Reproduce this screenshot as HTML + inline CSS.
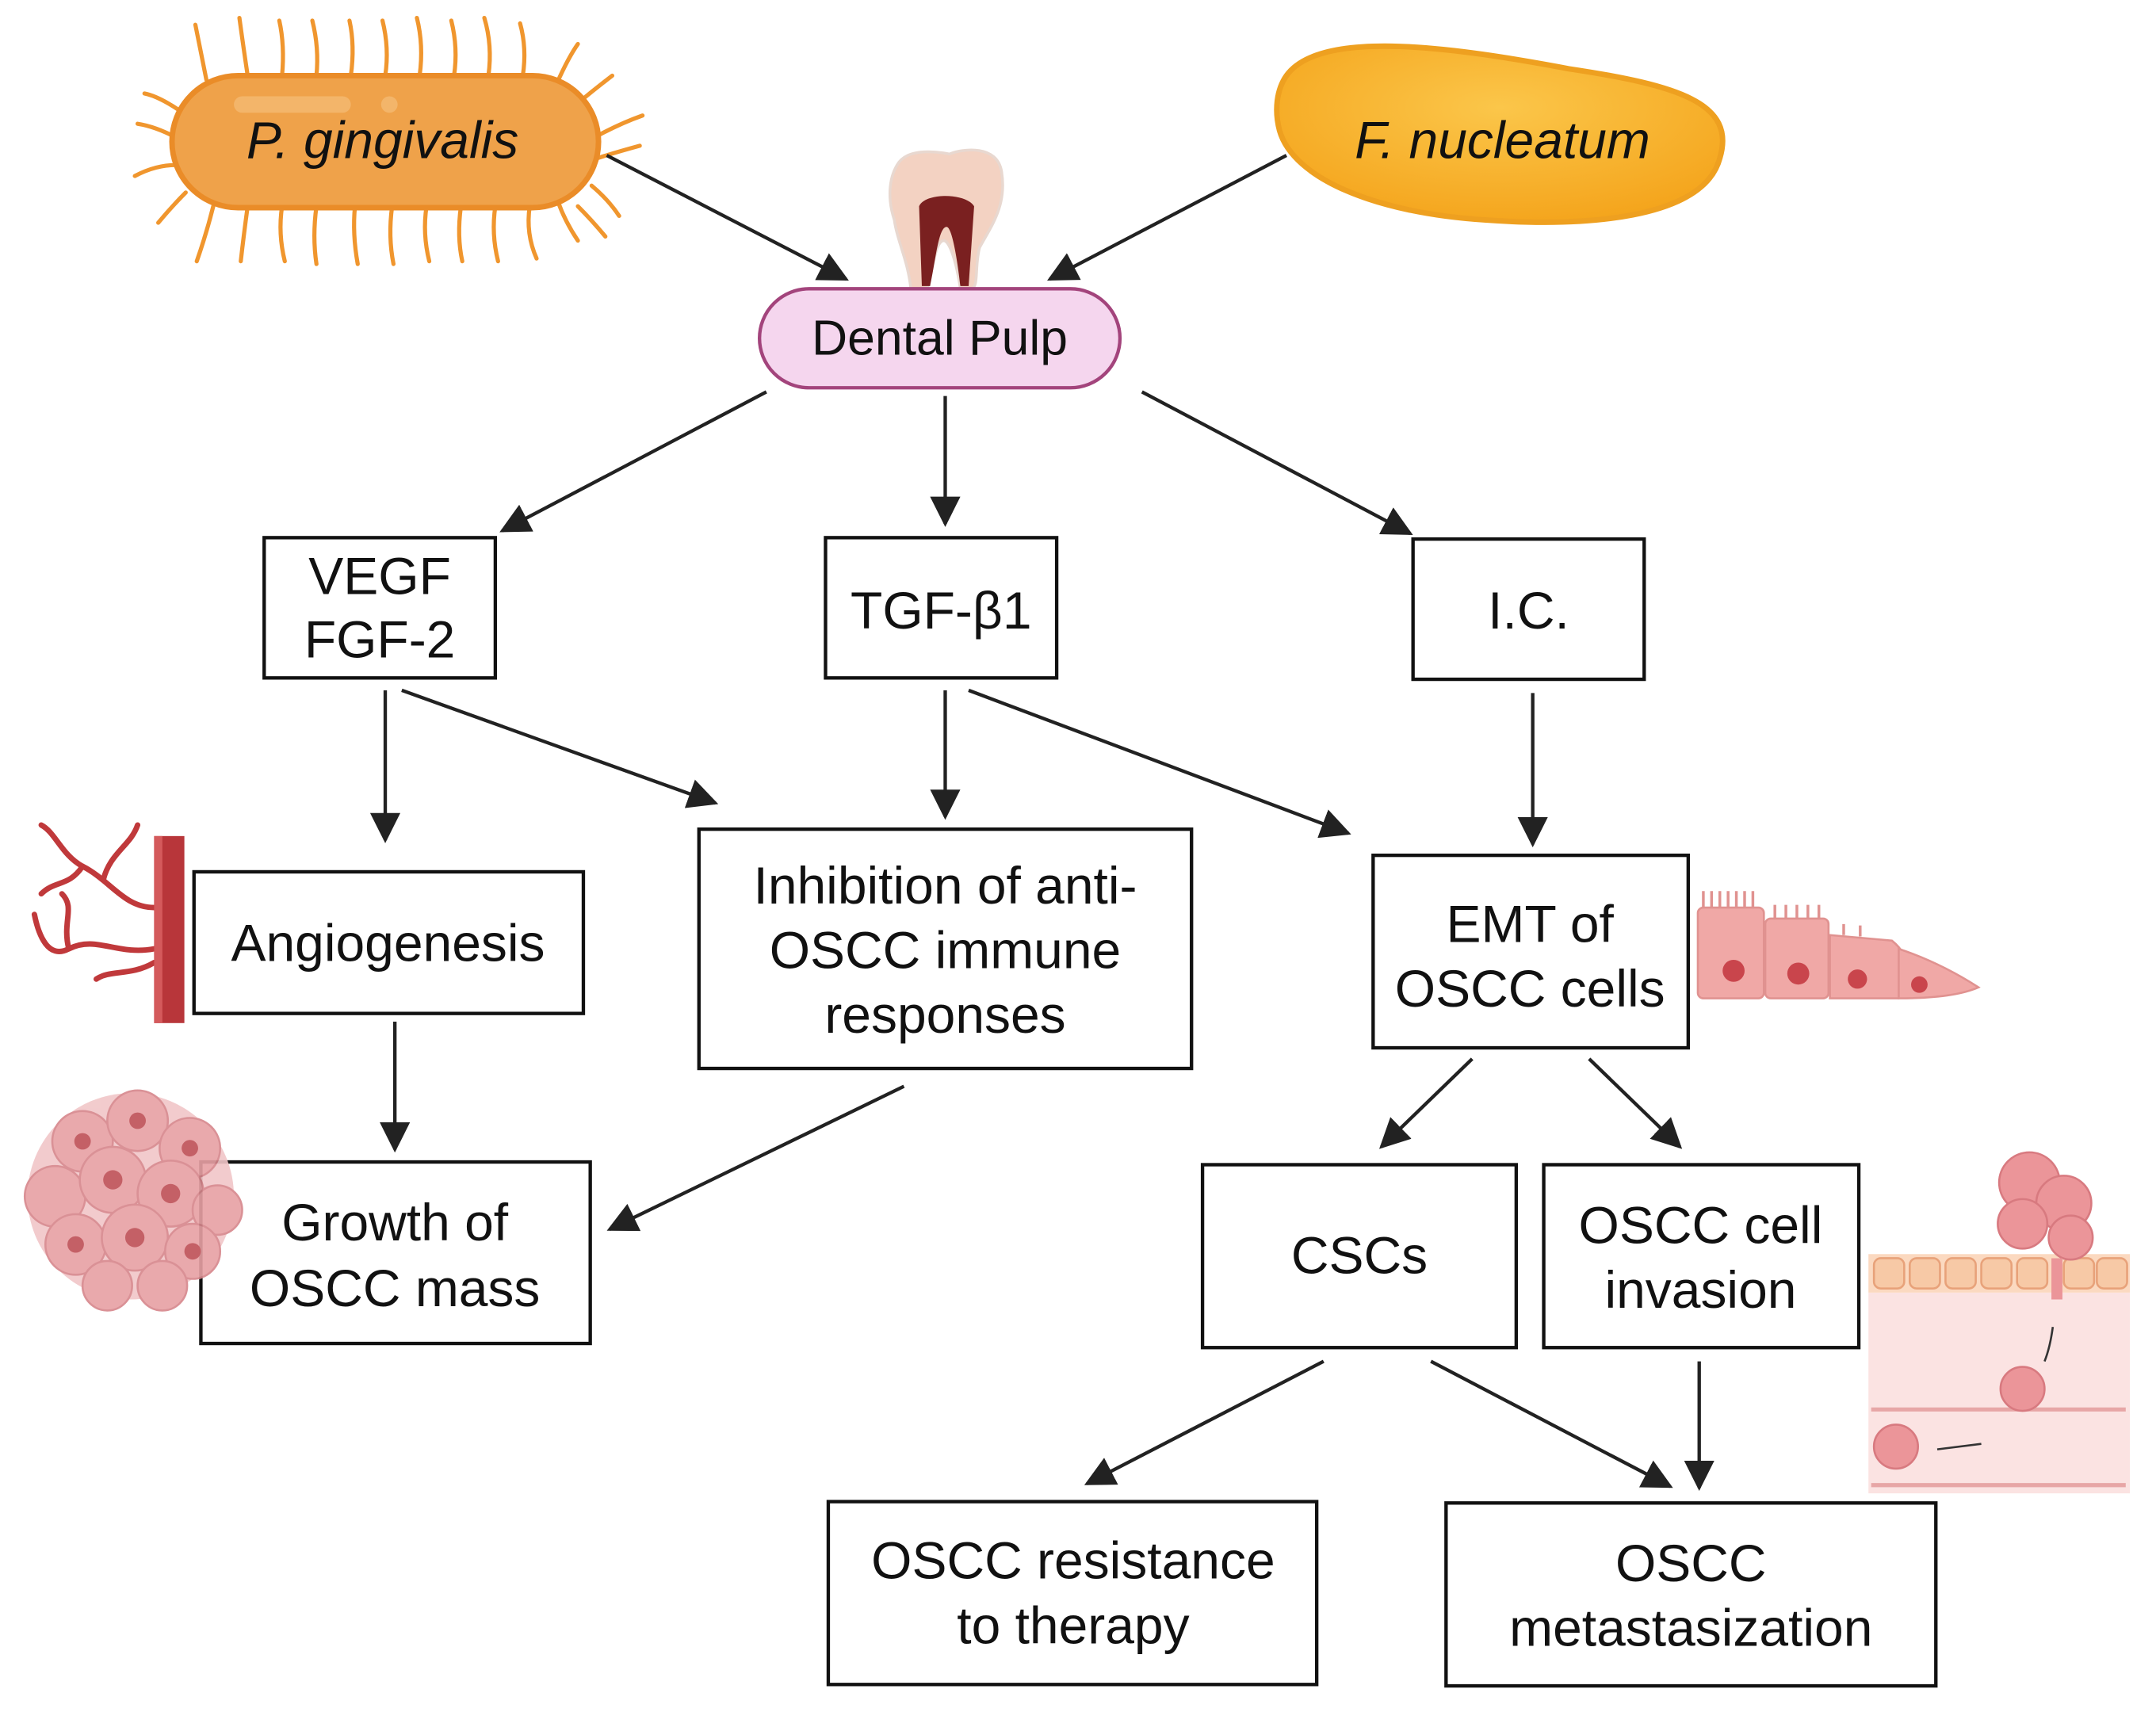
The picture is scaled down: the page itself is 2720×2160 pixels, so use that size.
<!DOCTYPE html>
<html><head><meta charset="utf-8"><style>
html,body{margin:0;padding:0;background:#fff;}
svg{display:block;}
text{font-family:"Liberation Sans",Arial,sans-serif;fill:#111;}
</style></head><body>
<svg width="2720" height="2160" viewBox="0 0 1567 1245" preserveAspectRatio="none" xmlns="http://www.w3.org/2000/svg">
<defs>
<marker id="a" viewBox="0 0 20 20" refX="18" refY="10" markerWidth="22" markerHeight="22" markerUnits="userSpaceOnUse" orient="auto"><path d="M0,0 L20,10 L0,20 Z" fill="#222"/></marker>
<radialGradient id="fn" cx="0.5" cy="0.35" r="0.7"><stop offset="0" stop-color="#fbc64a"/><stop offset="1" stop-color="#f4a31a"/></radialGradient>
</defs>
<rect width="1567" height="1245" fill="#fff"/>

<!-- P. gingivalis spikes -->
<g stroke="#f0962e" stroke-width="3" fill="none" stroke-linecap="round">
<path d="M150,58 q-4,-20 -8,-40"/><path d="M180,55 q-3,-20 -6,-42"/><path d="M205,55 q2,-22 -2,-40"/><path d="M230,55 q2,-20 -3,-40"/><path d="M255,55 q3,-22 -1,-40"/><path d="M280,55 q3,-20 -2,-40"/><path d="M305,55 q3,-22 -2,-42"/><path d="M330,55 q3,-20 -2,-40"/><path d="M355,55 q3,-22 -3,-42"/><path d="M380,55 q3,-20 -2,-38"/><path d="M405,60 q8,-18 15,-28"/><path d="M420,75 q12,-10 25,-20"/>
<path d="M425,118 q18,-6 40,-12"/><path d="M432,100 q18,-10 35,-16"/><path d="M430,135 q12,10 20,22"/><path d="M420,150 q10,10 20,22"/>
<path d="M155,150 q-5,20 -12,40"/><path d="M180,150 q-3,22 -5,40"/><path d="M205,150 q-3,20 2,40"/><path d="M230,150 q-3,22 0,42"/><path d="M258,150 q-2,20 2,42"/><path d="M285,150 q-3,22 1,42"/><path d="M310,150 q-3,20 2,40"/><path d="M335,150 q-3,22 1,40"/><path d="M360,150 q-3,20 2,40"/><path d="M385,150 q-3,20 5,38"/><path d="M405,145 q5,15 15,30"/>
<path d="M130,80 q-15,-10 -25,-12"/><path d="M128,100 q-15,-8 -28,-10"/><path d="M128,120 q-15,0 -30,8"/><path d="M135,140 q-10,10 -20,22"/>
</g>
<rect x="125" y="55" width="310" height="96" rx="48" fill="#efa24a" stroke="#ea8c28" stroke-width="4"/>
<rect x="170" y="70" width="85" height="12" rx="6" fill="#f3b56a"/>
<circle cx="283" cy="76" r="6" fill="#f3b56a"/>
<text x="278" y="115" font-size="38" font-style="italic" text-anchor="middle">P. gingivalis</text>

<!-- F. nucleatum -->
<path d="M935,55 C960,20 1060,35 1140,50 C1220,62 1262,75 1250,115 C1238,160 1150,165 1080,160 C1000,155 940,130 930,95 C926,80 928,65 935,55 Z" fill="url(#fn)" stroke="#eea020" stroke-width="4"/>
<text x="1092" y="115" font-size="38" font-style="italic" text-anchor="middle">F. nucleatum</text>

<!-- Tooth -->
<path d="M652,120 C660,105 690,112 690,112 C700,108 725,105 728,125 C732,150 720,165 712,180 C708,195 712,210 705,210 L698,210 C695,190 690,175 686,175 C680,175 678,195 674,210 L662,210 C660,190 652,175 650,160 C645,145 646,130 652,120 Z" fill="#f3d2c2" stroke="#e8d8d0" stroke-width="2"/>
<path d="M668,150 C672,140 702,140 708,150 L704,208 L698,208 C696,190 692,165 688,165 C682,165 680,190 676,208 L670,208 Z" fill="#7a2020"/>

<!-- Dental Pulp -->
<rect x="552" y="210" width="262" height="72" rx="36" fill="#f5d6ee" stroke="#a3447c" stroke-width="2.5"/>
<text x="683" y="258" font-size="36" text-anchor="middle">Dental Pulp</text>

<!-- arrows -->
<g stroke="#222" stroke-width="2.5" fill="none" marker-end="url(#a)">
<line x1="441" y1="113" x2="615" y2="203"/>
<line x1="935" y1="113" x2="763" y2="203"/>
<line x1="557" y1="285" x2="365" y2="386"/>
<line x1="687" y1="288" x2="687" y2="381"/>
<line x1="830" y1="285" x2="1025" y2="388"/>
<line x1="280" y1="502" x2="280" y2="611"/>
<line x1="292" y1="502" x2="520" y2="584"/>
<line x1="687" y1="502" x2="687" y2="594"/>
<line x1="704" y1="502" x2="980" y2="606"/>
<line x1="1114" y1="504" x2="1114" y2="614"/>
<line x1="287" y1="743" x2="287" y2="836"/>
<line x1="657" y1="790" x2="443" y2="894"/>
<line x1="1070" y1="770" x2="1004" y2="834"/>
<line x1="1155" y1="770" x2="1221" y2="834"/>
<line x1="962" y1="990" x2="790" y2="1079"/>
<line x1="1040" y1="990" x2="1214" y2="1081"/>
<line x1="1235" y1="990" x2="1235" y2="1082"/>
</g>

<!-- boxes -->
<g fill="#fff" stroke="#111" stroke-width="2.5">
<rect x="192" y="391" width="168" height="102"/>
<rect x="600" y="391" width="168" height="102"/>
<rect x="1027" y="392" width="168" height="102"/>
<rect x="141" y="634" width="283" height="103"/>
<rect x="508" y="603" width="358" height="174"/>
<rect x="998" y="622" width="229" height="140"/>
<rect x="146" y="845" width="283" height="132"/>
<rect x="874" y="847" width="228" height="133"/>
<rect x="1122" y="847" width="229" height="133"/>
<rect x="602" y="1092" width="355" height="133"/>
<rect x="1051" y="1093" width="356" height="133"/>
</g>
<g font-size="38" text-anchor="middle">
<text x="276" y="432">VEGF</text><text x="276" y="478">FGF-2</text>
<text x="684" y="457">TGF-β1</text>
<text x="1111" y="457">I.C.</text>
<text x="282" y="699">Angiogenesis</text>
<text x="687" y="657">Inhibition of anti-</text><text x="687" y="704">OSCC immune</text><text x="687" y="751">responses</text>
<text x="1112" y="685">EMT of</text><text x="1112" y="732">OSCC cells</text>
<text x="287" y="902">Growth of</text><text x="287" y="950">OSCC mass</text>
<text x="988" y="926">CSCs</text>
<text x="1236" y="904">OSCC cell</text><text x="1236" y="951">invasion</text>
<text x="780" y="1148">OSCC resistance</text><text x="780" y="1195">to therapy</text>
<text x="1229" y="1150">OSCC</text><text x="1229" y="1197">metastasization</text>
</g>

<!-- blood vessel -->
<g stroke="#c0393b" stroke-width="4" fill="none" stroke-linecap="round">
<path d="M112,660 C90,660 80,640 60,630 C45,622 40,605 30,600"/>
<path d="M112,690 C85,695 70,680 50,690 C35,698 28,680 25,665"/>
<path d="M112,700 C95,710 80,705 70,712"/>
<path d="M60,630 C50,645 40,640 30,650"/>
<path d="M75,640 C80,620 95,615 100,600"/>
<path d="M50,690 C45,670 55,660 45,650"/>
</g>
<rect x="112" y="608" width="22" height="136" fill="#b8363a"/>
<rect x="112" y="608" width="6" height="136" fill="#d45a5c"/>

<!-- tumour mass -->
<g fill="#e7a0a4" stroke="#d6868b" stroke-width="1.5" opacity="0.9">
<circle cx="95" cy="870" r="75" fill="#f1c6c8" stroke="none"/>
<circle cx="60" cy="830" r="22"/><circle cx="100" cy="815" r="22"/><circle cx="138" cy="835" r="22"/>
<circle cx="40" cy="870" r="22"/><circle cx="82" cy="858" r="24"/><circle cx="124" cy="868" r="24"/><circle cx="158" cy="880" r="18"/>
<circle cx="55" cy="905" r="22"/><circle cx="98" cy="900" r="24"/><circle cx="140" cy="910" r="20"/>
<circle cx="78" cy="935" r="18"/><circle cx="118" cy="935" r="18"/>
</g>
<g fill="#c46066"><circle cx="82" cy="858" r="7"/><circle cx="124" cy="868" r="7"/><circle cx="98" cy="900" r="7"/><circle cx="60" cy="830" r="6"/><circle cx="100" cy="815" r="6"/><circle cx="55" cy="905" r="6"/><circle cx="140" cy="910" r="6"/><circle cx="138" cy="835" r="6"/></g>

<!-- epithelial cells -->
<g fill="#f0a8a6" stroke="#e09290" stroke-width="1.5">
<rect x="1234" y="660" width="48" height="66" rx="4"/>
<rect x="1283" y="668" width="46" height="58" rx="4"/>
<path d="M1330,680 L1375,684 Q1395,700 1380,726 L1330,726 Z"/>
<path d="M1380,690 Q1410,700 1438,718 Q1420,726 1380,726 Z"/>
</g>
<g stroke="#e09290" stroke-width="2"><path d="M1238,660 v-12 M1244,660 v-12 M1250,660 v-12 M1256,660 v-12 M1262,660 v-12 M1268,660 v-12 M1274,660 v-12 M1290,668 v-10 M1298,668 v-10 M1306,668 v-10 M1314,668 v-10 M1322,668 v-10 M1340,680 v-8 M1352,681 v-8"/></g>
<g fill="#c9454c"><circle cx="1260" cy="706" r="8"/><circle cx="1307" cy="708" r="8"/><circle cx="1350" cy="712" r="7"/><circle cx="1395" cy="716" r="6"/></g>

<!-- invasion illustration -->
<rect x="1358" y="940" width="190" height="146" fill="#fbe3e2"/>
<rect x="1358" y="912" width="190" height="28" fill="#fbd9c0"/>
<g fill="#f7c9a6" stroke="#e8a27a" stroke-width="1.5">
<rect x="1362" y="915" width="22" height="22" rx="5"/><rect x="1388" y="915" width="22" height="22" rx="5"/><rect x="1414" y="915" width="22" height="22" rx="5"/><rect x="1440" y="915" width="22" height="22" rx="5"/><rect x="1466" y="915" width="22" height="22" rx="5"/><rect x="1500" y="915" width="22" height="22" rx="5"/><rect x="1524" y="915" width="22" height="22" rx="5"/>
</g>
<g stroke="#e7a6a6" stroke-width="3" fill="none"><path d="M1360,1025 H1545 M1360,1080 H1545"/></g>
<g fill="#eb9599" stroke="#d87a80" stroke-width="1.5">
<circle cx="1475" cy="860" r="22"/><circle cx="1500" cy="875" r="20"/><circle cx="1470" cy="890" r="18"/><circle cx="1505" cy="900" r="16"/>
<circle cx="1470" cy="1010" r="16"/><circle cx="1378" cy="1052" r="16"/>
</g>
<path d="M1495,915 L1495,945" stroke="#eb9599" stroke-width="8"/>
<path d="M1492,965 Q1490,980 1486,990" stroke="#333" stroke-width="1.5" fill="none"/>
<path d="M1440,1050 L1408,1054" stroke="#333" stroke-width="1.5" fill="none"/>
</svg>
</body></html>
